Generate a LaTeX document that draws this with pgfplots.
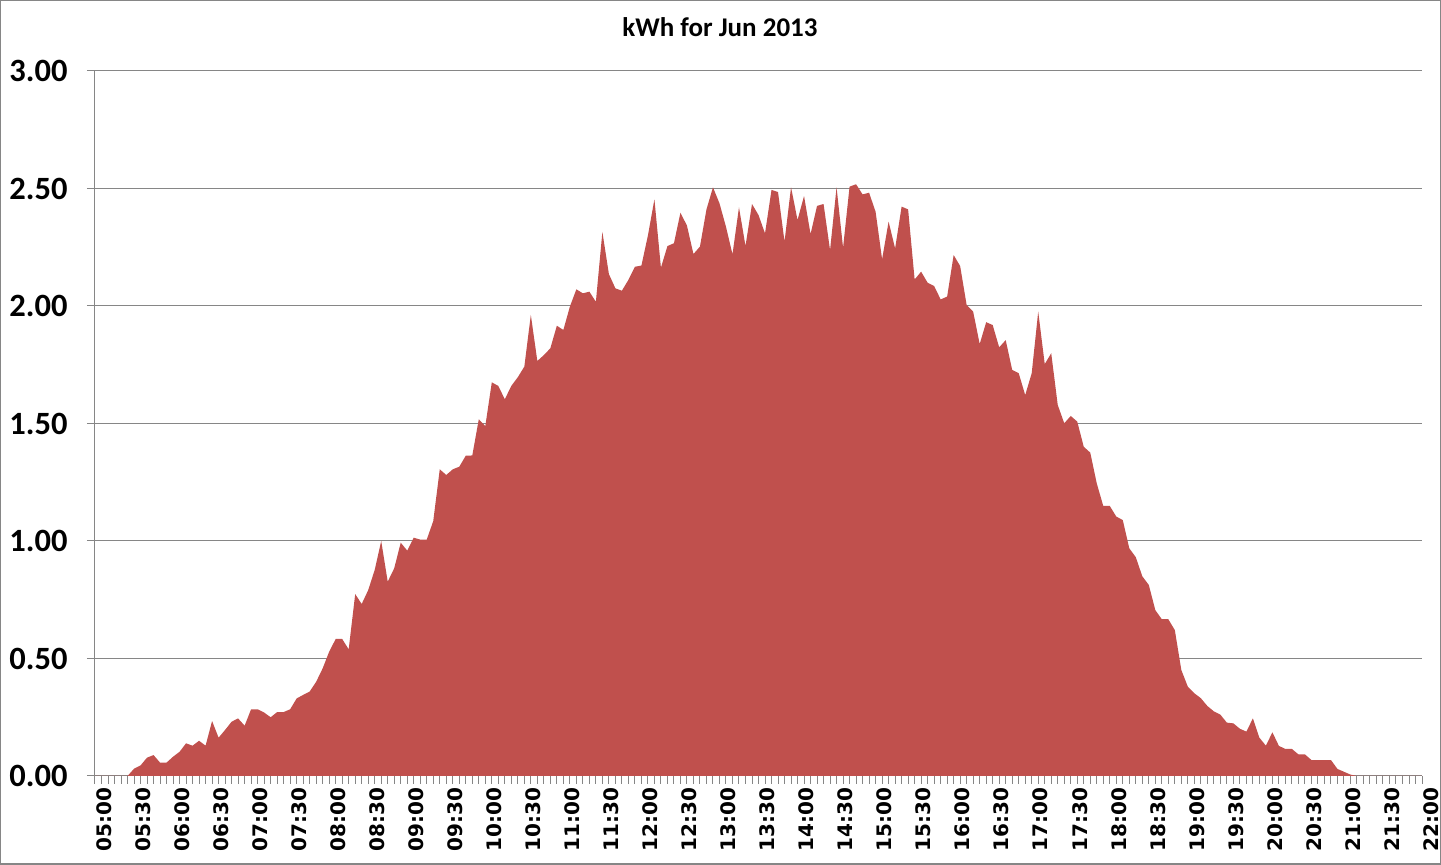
\documentclass[border=0pt]{standalone}
\usepackage{pgfplots}
\pgfplotsset{compat=1.18}
\usepackage{pgfplotstable}
\usetikzlibrary{calc}
\usepackage{fontspec}
\setmainfont{Carlito}
\newfontfamily\dejavu{DejaVu Sans}
\definecolor{areared}{RGB}{192,80,77}
\definecolor{gridgray}{RGB}{134,134,134}

\pgfplotstableread{
x y
0 0
1 0
2 0
3 0
4 0
5 0
6 0.031
7 0.045
8 0.078
9 0.089
10 0.057
11 0.057
12 0.082
13 0.103
14 0.139
15 0.129
16 0.150
17 0.129
18 0.234
19 0.163
20 0.196
21 0.231
22 0.245
23 0.214
24 0.284
25 0.284
26 0.270
27 0.250
28 0.272
29 0.272
30 0.284
31 0.330
32 0.345
33 0.359
34 0.401
35 0.458
36 0.529
37 0.583
38 0.583
39 0.539
40 0.774
41 0.732
42 0.791
43 0.877
44 1.000
45 0.827
46 0.884
47 0.993
48 0.959
49 1.014
50 1.006
51 1.006
52 1.085
53 1.305
54 1.281
55 1.305
56 1.316
57 1.363
58 1.364
59 1.518
60 1.489
61 1.675
62 1.660
63 1.603
64 1.660
65 1.697
66 1.742
67 1.962
68 1.766
69 1.791
70 1.820
71 1.916
72 1.898
73 1.997
74 2.071
75 2.054
76 2.061
77 2.018
78 2.315
79 2.136
80 2.075
81 2.065
82 2.111
83 2.167
84 2.172
85 2.300
86 2.454
87 2.163
88 2.255
89 2.267
90 2.397
91 2.342
92 2.221
93 2.253
94 2.411
95 2.505
96 2.437
97 2.337
98 2.220
99 2.420
100 2.255
101 2.434
102 2.387
103 2.309
104 2.494
105 2.485
106 2.274
107 2.505
108 2.366
109 2.468
110 2.306
111 2.426
112 2.434
113 2.238
114 2.505
115 2.248
116 2.508
117 2.518
118 2.475
119 2.482
120 2.401
121 2.199
122 2.359
123 2.245
124 2.423
125 2.411
126 2.113
127 2.146
128 2.099
129 2.085
130 2.028
131 2.040
132 2.217
133 2.170
134 2.004
135 1.976
136 1.838
137 1.931
138 1.919
139 1.824
140 1.855
141 1.728
142 1.714
143 1.621
144 1.714
145 1.976
146 1.753
147 1.799
148 1.579
149 1.501
150 1.532
151 1.508
152 1.401
153 1.376
154 1.245
155 1.149
156 1.149
157 1.104
158 1.089
159 0.969
160 0.931
161 0.850
162 0.813
163 0.706
164 0.667
165 0.667
166 0.621
167 0.451
168 0.380
169 0.352
170 0.331
171 0.298
172 0.275
173 0.261
174 0.227
175 0.224
176 0.201
177 0.189
178 0.245
179 0.163
180 0.129
181 0.186
182 0.128
183 0.115
184 0.115
185 0.092
186 0.092
187 0.068
188 0.068
189 0.068
190 0.068
191 0.030
192 0.018
193 0.006
194 0
195 0
196 0
197 0
198 0
199 0
200 0
201 0
202 0
203 0
204 0
}\kwhdata

\begin{document}
\begin{tikzpicture}
\begin{axis}[
  name=ax,
  scale only axis, width=1327pt, height=705pt,
  xmin=0, xmax=204, ymin=0, ymax=3,
  axis x line=bottom, axis y line=left,
  axis line style={gridgray, line width=1pt, -},
  xtick={0,6,...,204},
  minor xtick={0,1,...,204},
  xticklabels={05:00,05:30,06:00,06:30,07:00,07:30,08:00,08:30,09:00,09:30,10:00,10:30,11:00,11:30,12:00,12:30,13:00,13:30,14:00,14:30,15:00,15:30,16:00,16:30,17:00,17:30,18:00,18:30,19:00,19:30,20:00,20:30,21:00,21:30,22:00},
  ytick={0,0.5,1,1.5,2,2.5,3},
  yticklabel={\pgfmathprintnumber[fixed,fixed zerofill,precision=2,assume math mode=true]{\tick}},
  tick align=outside,
  major tick length=8pt, minor tick length=8pt,
  minor tick style={gridgray, line width=1pt},
  major tick style={gridgray, line width=1pt},
  ymajorgrids,
  major grid style={gridgray, line width=1pt},
  yticklabel style={font=\fontsize{32.5}{33}\selectfont\bfseries, text=black, xshift=-16pt},
  xticklabel style={font=\dejavu\bfseries\fontsize{20}{21}\selectfont, rotate=90, anchor=east, text=black, yshift=-9pt},
  clip=false,
]
\addplot[fill=areared, draw=none] table[x=x, y=y] {\kwhdata} \closedcycle;
\end{axis}
\pgfresetboundingbox
\path[use as bounding box] ($(ax.south west)+(-95pt,-89pt)$) rectangle ($(ax.north east)+(19pt,71pt)$);
\draw[gridgray, line width=1.5pt] ($(ax.south west)+(-94.25pt,-88.25pt)$) rectangle ($(ax.north east)+(18.25pt,70.25pt)$);
\node[font=\fontsize{27}{32}\selectfont\bfseries] at ($(ax.north west)+(625pt,44pt)$) {kWh for Jun 2013};
\end{tikzpicture}
\end{document}
